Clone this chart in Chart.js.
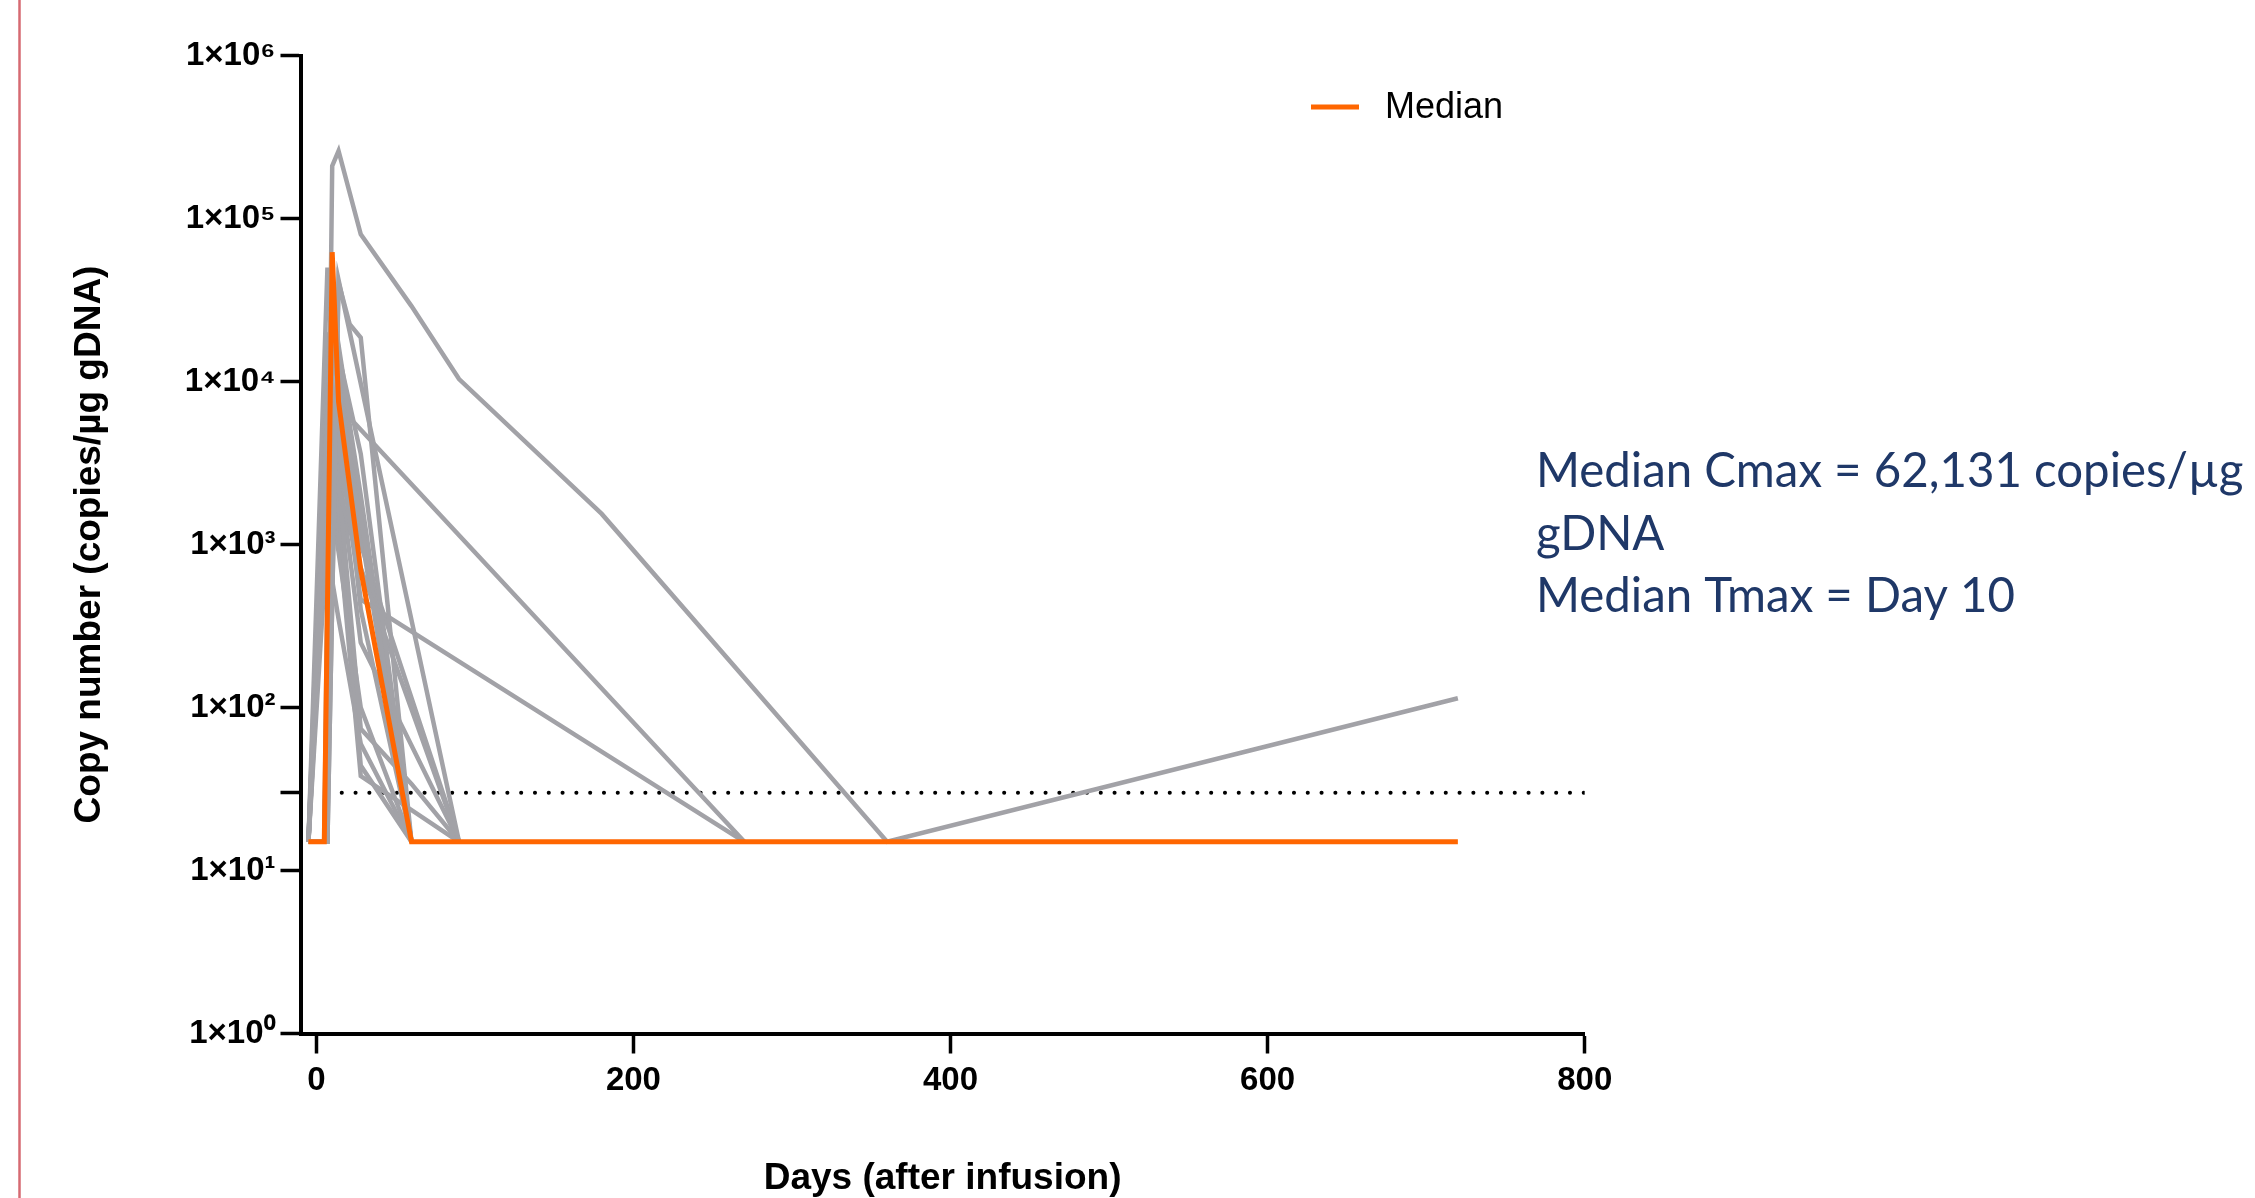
<!DOCTYPE html>
<html>
<head>
<meta charset="utf-8">
<script src="https://cdn.jsdelivr.net/npm/chart.js@4.4.1/dist/chart.umd.min.js"></script>
<style>
  html, body { margin: 0; padding: 0; background: #fff; }
  #wrap { width: 2255px; height: 1198px; position: relative; }
</style>
</head>
<body>
<div id="wrap"><canvas id="chart"></canvas></div>
<script>
// Sampling days (after infusion)
const days = [-5, 5, 7, 10, 14, 21, 28, 60, 90, 180, 270, 360, 720];

// Median copy number
const median = [15, 15, null, 62131, 7500, null, 700, 15, 15, 15, 15, 15, 15];

// Individual patients (copies/ug gDNA), null = no sample
const p01 = [15, 15, null, 210000, 260000, null, 80000, 29000, 10350, 1540, null, 15, 114];
const p02 = [15, null, 15, null, 40500, 22500, 18600, 15, null, null, null, null, null];
const p03 = [15, null, 15, null, 42000, null, null, null, 15, null, null, null, null];
const p04 = [15, null, null, 30000, null, 6000, null, null, null, null, 15, null, null];
const p05 = [15, null, null, 8000, null, null, 460, null, null, null, 15, null, null];
const p06 = [15, null, 15, 22000, null, null, 3600, 15, null, null, null, null, null];
const p07 = [15, 15, null, 3000, null, null, 720, null, 15, null, null, null, null];
const p08 = [15, null, 9000, null, 2500, null, 74, 34, 15, null, null, null, null];
const p09 = [15, null, null, 6000, 1800, null, 44, 15, null, null, null, null, null];
const p10 = [15, 15, null, 4000, 1200, null, 38, null, 15, null, null, null, null];
const p11 = [15, null, 12000, null, 5000, null, 1500, 15, null, null, null, null, null];
const p12 = [15, null, null, 45000, 15000, null, 2000, 15, null, null, null, null, null];
const p13 = [15, null, 2500, null, 900, 300, 100, 15, null, null, null, null, null];
const p14 = [15, 15, null, 18000, 9000, 3500, 1000, null, 15, null, null, null, null];
const p15 = [15, null, 50000, 20000, null, null, 400, 15, null, null, null, null, null];
const p16 = [15, null, 1200, 600, 350, null, 60, 15, null, null, null, null, null];
const p17 = [15, null, 15, 30000, 12000, 4000, null, 15, null, null, null, null, null];
const p18 = [15, 15, null, 7000, 3000, null, 250, null, 15, null, null, null, null];
const p19 = [15, null, 20000, 9000, 4500, null, 1200, 15, null, null, null, null, null];
const patients = [p01, p02, p03, p04, p05, p06, p07, p08, p09, p10,
                  p11, p12, p13, p14, p15, p16, p17, p18, p19];

// LLOQ reference line
const lloq = 30;
const lloqDays = [16, 800];

// Axis ticks
const xTicks = [0, 200, 400, 600, 800];
const yTicks = [1, 10, 30, 100, 1000, 10000, 100000, 1000000];
const sup = ['⁰', '¹', '²', '³', '⁴', '⁵', '⁶'];

const ORANGE = '#ff6600';
const GRAY = '#a2a2a7';

function toPoints(values) {
    return days.map((d, i) => ({ x: d, y: values[i] }));
}

const datasets = [];
datasets.push({
    label: 'Median',
    data: toPoints(median),
    borderColor: ORANGE,
    borderWidth: 5,
    pointRadius: 0,
    spanGaps: true,
    tension: 0
});
patients.forEach((p, i) => {
    datasets.push({
        label: 'Patient ' + (i + 1),
        data: toPoints(p),
        borderColor: GRAY,
        borderWidth: 4.5,
        pointRadius: 0,
        spanGaps: true,
        tension: 0
    });
});
datasets.push({
    label: 'LLOQ',
    data: lloqDays.map(d => ({ x: d, y: lloq })),
    borderColor: '#000',
    borderWidth: 4,
    borderDash: [0.1, 13.7],
    borderCapStyle: 'round',
    pointRadius: 0
});

// Legend and annotation text
const overlay = {
    id: 'overlay',
    afterDraw(chart) {
        const ctx = chart.ctx;
        ctx.save();
        // slide border
        ctx.strokeStyle = '#d66a72';
        ctx.lineWidth = 2.5;
        ctx.beginPath();
        ctx.moveTo(19.5, 0);
        ctx.lineTo(19.5, chart.height);
        ctx.stroke();

        // legend
        ctx.strokeStyle = ORANGE;
        ctx.lineWidth = 5;
        ctx.beginPath();
        ctx.moveTo(1311, 107);
        ctx.lineTo(1359, 107);
        ctx.stroke();
        ctx.fillStyle = '#000';
        ctx.font = '36px "Liberation Sans", Arial, sans-serif';
        ctx.textBaseline = 'middle';
        ctx.textAlign = 'left';
        ctx.fillText('Median', 1385, 108);

        // summary
        const lines = ['Median Cmax = 62,131 copies/µg', 'gDNA', 'Median Tmax = Day 10'];
        ctx.font = '48px Lato, "Open Sans", sans-serif';
        const w = ctx.measureText(lines[0]).width;
        const size = 48 * 708 / w;
        ctx.font = size.toFixed(1) + 'px Lato, "Open Sans", sans-serif';
        ctx.fillStyle = '#1f3868';
        lines.forEach((t, i) => ctx.fillText(t, 1536, 472 + i * 62.5));
        ctx.restore();
    }
};

new Chart(document.getElementById('chart'), {
    type: 'line',
    data: { datasets: datasets },
    options: {
        responsive: true,
        maintainAspectRatio: false,
        animation: false,
        devicePixelRatio: 1,
        layout: { padding: { top: 55.5, right: 670.3, bottom: 0, left: 0 } },
        plugins: {
            legend: { display: false },
            tooltip: { enabled: false }
        },
        scales: {
            x: {
                type: 'linear',
                min: -10,
                max: 800,
                afterFit: function(scale) { scale.height = 164.5; },
                afterBuildTicks: function(scale) {
                    scale.ticks = xTicks.map(v => ({ value: v }));
                },
                border: { display: true, color: '#000', width: 4 },
                grid: {
                    drawOnChartArea: false,
                    drawTicks: true,
                    tickLength: 20,
                    tickWidth: 3.5,
                    tickColor: '#000'
                },
                ticks: {
                    color: '#000',
                    padding: 8,
                    maxRotation: 0,
                    font: { family: '"Liberation Sans", Arial, sans-serif', size: 33, weight: 'bold' }
                },
                title: {
                    display: true,
                    text: 'Days (after infusion)',
                    color: '#000',
                    padding: { top: 0, bottom: 0 },
                    font: { family: '"Liberation Sans", Arial, sans-serif', size: 37, weight: 'bold', lineHeight: 1.05 }
                }
            },
            y: {
                type: 'logarithmic',
                min: 1,
                max: 1000000,
                afterFit: function(scale) { scale.width = 300.5; },
                afterBuildTicks: function(scale) {
                    scale.ticks = yTicks.map(v => ({ value: v }));
                },
                border: { display: true, color: '#000', width: 4 },
                grid: {
                    drawOnChartArea: false,
                    drawTicks: true,
                    tickLength: 20,
                    tickWidth: 3.5,
                    tickColor: '#000'
                },
                ticks: {
                    color: '#000',
                    padding: 5,
                    font: { family: '"Liberation Sans", Arial, sans-serif', size: 33, weight: 'bold' },
                    callback: function(value) {
                        if (value === lloq) return '';
                        return '1×10' + sup[Math.round(Math.log10(value))];
                    }
                },
                title: {
                    display: true,
                    text: 'Copy number (copies/µg gDNA)',
                    color: '#000',
                    padding: { top: 70, bottom: 0 },
                    font: { family: '"Liberation Sans", Arial, sans-serif', size: 37, weight: 'bold', lineHeight: 1.05 }
                }
            }
        }
    },
    plugins: [overlay]
});
</script>
</body>
</html>
